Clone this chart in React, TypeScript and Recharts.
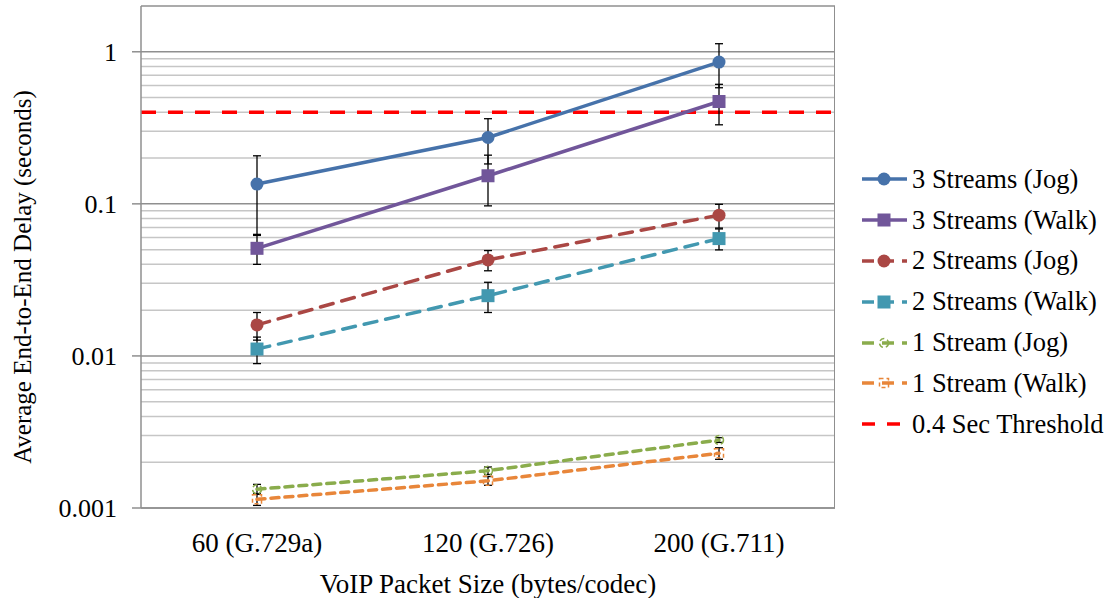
import {
  LineChart,
  Line,
  XAxis,
  YAxis,
  ErrorBar,
  ReferenceLine,
} from "recharts";

// packet sizes / codecs on the x axis
const CATEGORIES = ["60 (G.729a)", "120 (G.726)", "200 (G.711)"];

// mean end-to-end delay in seconds, and +/- error for each point
const JOG_3 = [0.135, 0.273, 0.855];
const JOG_3_ERR = [0.072, 0.09, 0.275];
const WALK_3 = [0.051, 0.153, 0.471];
const WALK_3_ERR = [0.011, 0.056, 0.14];
const JOG_2 = [0.016, 0.0428, 0.0843];
const JOG_2_ERR = [0.0033, 0.0065, 0.015];
const WALK_2 = [0.0111, 0.0249, 0.0591];
const WALK_2_ERR = [0.0022, 0.0056, 0.0093];
const JOG_1 = [0.00133, 0.00176, 0.0028];
const JOG_1_ERR = [0.0001, 0.0001, 0.0001];
const WALK_1 = [0.00114, 0.00151, 0.00229];
const WALK_1_ERR = [0.0001, 0.0001, 0.0002];

const THRESHOLD = 0.4;
const Y_MAX = 2;
const Y_TICKS = [0.001, 0.01, 0.1, 1];
const MINOR_GRID = [
  0.002, 0.003, 0.004, 0.005, 0.006, 0.007, 0.008, 0.009,
  0.02, 0.03, 0.04, 0.05, 0.06, 0.07, 0.08, 0.09,
  0.2, 0.3, 0.4, 0.5, 0.6, 0.7, 0.8, 0.9,
];

const data = CATEGORIES.map((name, i) => ({
  name,
  jog3: JOG_3[i],
  jog3Err: JOG_3_ERR[i],
  walk3: WALK_3[i],
  walk3Err: WALK_3_ERR[i],
  jog2: JOG_2[i],
  jog2Err: JOG_2_ERR[i],
  walk2: WALK_2[i],
  walk2Err: WALK_2_ERR[i],
  jog1: JOG_1[i],
  jog1Err: JOG_1_ERR[i],
  walk1: WALK_1[i],
  walk1Err: WALK_1_ERR[i],
}));

const FONT = '"Liberation Serif", "Times New Roman", serif';

const C = {
  blue: "#4672aa",
  purple: "#71569a",
  red: "#aa4744",
  teal: "#4298b0",
  green: "#8aac4c",
  orange: "#e8863a",
  threshold: "#ff0000",
  axis: "#8f8f8f",
};

const MARGIN = { top: 6, right: 283, bottom: 30, left: 11 };
const Y_AXIS_W = 130;
const X_AXIS_H = 60;
const CHART_W = 1118;
const CHART_H = 598;

type MarkerKind = "circle" | "square" | "ring" | "box" | "none";

interface SeriesDef {
  key: string;
  label: string;
  color: string;
  dash?: string;
  marker: MarkerKind;
}

const SERIES: SeriesDef[] = [
  { key: "jog3", label: "3 Streams (Jog)", color: C.blue, marker: "circle" },
  { key: "walk3", label: "3 Streams (Walk)", color: C.purple, marker: "square" },
  { key: "jog2", label: "2 Streams (Jog)", color: C.red, dash: "13 9", marker: "circle" },
  { key: "walk2", label: "2 Streams (Walk)", color: C.teal, dash: "13 9", marker: "square" },
  { key: "jog1", label: "1 Stream (Jog)", color: C.green, dash: "8 6", marker: "ring" },
  { key: "walk1", label: "1 Stream (Walk)", color: C.orange, dash: "8 6", marker: "box" },
];

function drawMarker(kind: MarkerKind, cx: number, cy: number, color: string, key?: string) {
  if (kind === "circle") return <circle key={key} cx={cx} cy={cy} r={6.5} fill={color} />;
  if (kind === "square")
    return <rect key={key} x={cx - 6.5} y={cy - 6.5} width={13} height={13} fill={color} />;
  if (kind === "ring")
    return (
      <circle
        key={key}
        cx={cx}
        cy={cy}
        r={4.5}
        fill="none"
        stroke={color}
        strokeWidth={1.5}
        strokeDasharray="5 3"
      />
    );
  if (kind === "box")
    return (
      <rect
        key={key}
        x={cx - 4.5}
        y={cy - 4.5}
        width={9}
        height={9}
        fill="none"
        stroke={color}
        strokeWidth={1.5}
        strokeDasharray="4 3"
      />
    );
  return <g key={key} />;
}

function LegendBox() {
  const rows = [
    ...SERIES,
    { key: "thr", label: "0.4 Sec Threshold", color: C.threshold, dash: "13 12", marker: "none" as MarkerKind },
  ];
  return (
    <div
      style={{
        position: "absolute",
        left: 860,
        top: 159,
        fontFamily: FONT,
        fontSize: 26.5,
        color: "#000",
        whiteSpace: "nowrap",
      }}
    >
      {rows.map((s) => (
        <div key={s.key} style={{ display: "flex", alignItems: "center", height: 40.8 }}>
          <svg width={48} height={20} style={{ marginRight: 4 }}>
            <line
              x1={2}
              x2={47}
              y1={10}
              y2={10}
              stroke={s.color}
              strokeWidth={3.5}
              strokeDasharray={s.key === "thr" ? "13 12" : s.dash ? "12 8" : undefined}
            />
            {drawMarker(s.marker, 24, 10, s.color)}
          </svg>
          <span>{s.label}</span>
        </div>
      ))}
    </div>
  );
}

const yTitle = () => (
  <text
    x={22}
    y={277}
    transform="rotate(-90 22 277)"
    textAnchor="middle"
    dominantBaseline="central"
    fontFamily={FONT}
    fontSize={25}
    fill="#000"
  >
    Average End-to-End Delay (seconds)
  </text>
);

export default function App() {
  const plotRight = CHART_W - MARGIN.right;
  const plotBottom = CHART_H - MARGIN.bottom - X_AXIS_H;

  return (
    <div style={{ position: "absolute", left: 0, top: 0, width: CHART_W, height: CHART_H, background: "#fff" }}>
      <LineChart width={CHART_W} height={CHART_H} data={data} margin={MARGIN}>
        {MINOR_GRID.map((v) => (
          <ReferenceLine key={v} y={v} stroke="#c6c6c6" strokeWidth={1.5} />
        ))}
        {Y_TICKS.map((v) => (
          <ReferenceLine key={`m${v}`} y={v} stroke={C.axis} strokeWidth={1.5} />
        ))}
        <ReferenceLine y={Y_MAX} stroke={C.axis} strokeWidth={1.5} />
        <XAxis
          dataKey="name"
          height={X_AXIS_H}
          padding={{ left: 116, right: 116 }}
          tickLine={false}
          axisLine={{ stroke: C.axis, strokeWidth: 1.5 }}
          tick={{ fill: "#000", fontSize: 27, fontFamily: FONT }}
          tickMargin={19}
          label={{
            value: "VoIP Packet Size (bytes/codec)",
            position: "insideBottom",
            offset: -25,
            fill: "#000",
            fontSize: 27,
            fontFamily: FONT,
          }}
        />
        <YAxis
          scale="log"
          domain={[0.001, Y_MAX]}
          allowDataOverflow
          ticks={Y_TICKS}
          width={Y_AXIS_W}
          tickSize={9}
          tickMargin={15}
          tickLine={{ stroke: C.axis, strokeWidth: 1.5 }}
          axisLine={{ stroke: C.axis, strokeWidth: 1.5 }}
          tick={{ fill: "#000", fontSize: 26, fontFamily: FONT }}
          tickFormatter={(v: number) => String(v)}
          label={{ content: yTitle }}
        />
        <ReferenceLine
          y={THRESHOLD}
          stroke={C.threshold}
          strokeWidth={3.5}
          strokeDasharray="15 12"
        />
        {SERIES.map((s) => (
          <Line
            key={s.key}
            dataKey={s.key}
            stroke={s.color}
            strokeWidth={3.5}
            strokeDasharray={s.dash}
            strokeLinecap={s.dash ? "round" : "butt"}
            dot={(p: any) => drawMarker(s.marker, p.cx, p.cy, s.color, `${s.key}-${p.index}`)}
            activeDot={false}
            isAnimationActive={false}
          >
            <ErrorBar dataKey={`${s.key}Err`} width={4} stroke="#000" strokeWidth={1.3} direction="y" />
          </Line>
        ))}
      </LineChart>
      {/* right edge of the plot frame */}
      <div
        style={{
          position: "absolute",
          left: plotRight - 0.75,
          top: MARGIN.top,
          width: 0,
          height: plotBottom - MARGIN.top,
          borderRight: `1.5px solid ${C.axis}`,
          pointerEvents: "none",
        }}
      />
      <LegendBox />
    </div>
  );
}
